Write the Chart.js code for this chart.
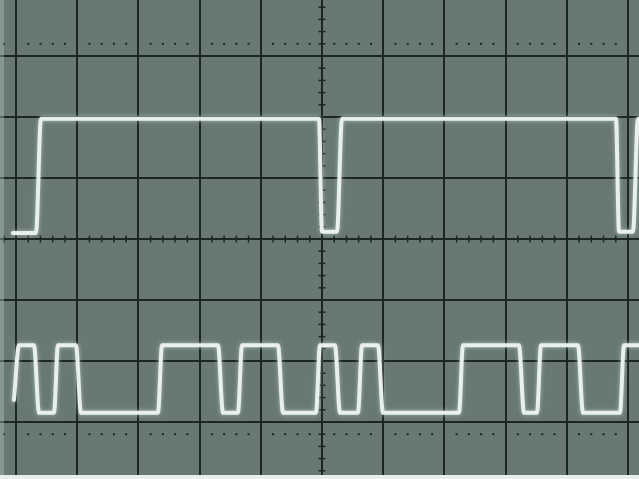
<!DOCTYPE html>
<html><head><meta charset="utf-8">
<script src="https://cdn.jsdelivr.net/npm/chart.js@4.4.1/dist/chart.umd.min.js"></script>
<style>
html,body{margin:0;padding:0;background:#e8eeec;overflow:hidden;}
#wrap{position:absolute;left:0;top:0;width:639px;height:475px;background:#687973;}
#edge{position:absolute;left:0;top:0;width:4px;height:475px;background:rgba(190,215,208,0.35);}
canvas{position:absolute;left:0;top:0;}
</style></head><body>
<div id="wrap"><canvas id="c" width="639" height="475"></canvas><div id="edge"></div></div>
<script>
// Graticule, in screen divisions
const xMajor = [0,1,2,3,4,5,6,7,8,9,10];
const yMajor = [0,1,2,3,4,5,6,7,8];
const xView = [-0.2614, 10.180];
const yView = [0.131, 7.918];
const minorStep = 0.2;
const centerX = 5;
const centerY = 4;
const dottedRows = [0.8, 7.2];

// Channel 1 (upper trace): time in divisions, level in divisions
const ch1Time  = [-0.05, 0.327, 0.408, 4.951, 5.000, 5.245, 5.327, 9.804, 9.853, 10.082, 10.163, 10.30];
const ch1Level = [ 4.10, 4.10,  5.97,  5.97,  4.12,  4.12,  5.97,  5.97,  4.12,  4.12,   5.97,   5.97];

// Channel 2 (lower trace)
const ch2Time  = [-0.033, 0.049, 0.294, 0.376, 0.621, 0.686, 0.980, 1.062, 2.320, 2.386, 3.301, 3.382,
                  3.627, 3.693, 4.281, 4.363, 4.902, 4.967, 5.212, 5.294, 5.588, 5.654, 5.915, 5.997,
                  7.239, 7.304, 8.219, 8.301, 8.513, 8.578, 9.183, 9.265, 9.869, 9.935, 10.30];
const ch2Level = [1.36, 2.26, 2.26, 1.15, 1.15, 2.26, 2.26, 1.15, 1.15, 2.26, 2.26, 1.15,
                  1.15, 2.26, 2.26, 1.15, 1.15, 2.26, 2.26, 1.15, 1.15, 2.26, 2.26, 1.15,
                  1.15, 2.26, 2.26, 1.15, 1.15, 2.26, 2.26, 1.15, 1.15, 2.26, 2.26];

const gridColor = '#1c2725';
const traceColor = 'rgba(236,243,241,0.96)';

const toPts = (t, l) => t.map((v, i) => ({x: v, y: l[i]}));

const graticule = {
  id: 'graticule',
  beforeDatasetsDraw(chart) {
    const {ctx, scales: {x, y}} = chart;
    ctx.save();
    ctx.strokeStyle = gridColor;
    ctx.fillStyle = gridColor;
    ctx.lineWidth = 1.5;
    const cx = x.getPixelForValue(centerX);
    const cy = y.getPixelForValue(centerY);
    const nx = Math.round(xMajor[xMajor.length - 1] / minorStep);
    const ny = Math.round(yMajor[yMajor.length - 1] / minorStep);
    for (let i = -1; i <= nx + 1; i++) {
      if (i % 5 === 0) continue;
      const px = x.getPixelForValue(i * minorStep);
      ctx.beginPath(); ctx.moveTo(px, cy - 3.5); ctx.lineTo(px, cy + 3.5); ctx.stroke();
      for (const r of dottedRows) {
        const py = y.getPixelForValue(r);
        ctx.fillRect(px - 1, py - 1, 2, 2);
      }
    }
    for (let j = 0; j <= ny; j++) {
      if (j % 5 === 0) continue;
      const py = y.getPixelForValue(j * minorStep);
      ctx.beginPath(); ctx.moveTo(cx - 3.5, py); ctx.lineTo(cx + 3.5, py); ctx.stroke();
    }
    ctx.restore();
  },
  beforeDatasetDraw(chart) {
    const ctx = chart.ctx;
    ctx.save();
    ctx.shadowColor = 'rgba(225,240,236,0.55)';
    ctx.shadowBlur = 4;
  },
  afterDatasetDraw(chart) {
    chart.ctx.restore();
  }
};

const traceStyle = {
  borderColor: traceColor,
  backgroundColor: traceColor,
  borderWidth: 4,
  pointRadius: 0,
  fill: false,
  cubicInterpolationMode: 'monotone',
  borderCapStyle: 'round',
  borderJoinStyle: 'round'
};

new Chart(document.getElementById('c'), {
  type: 'line',
  data: {
    datasets: [
      Object.assign({label: 'CH1', data: toPts(ch1Time, ch1Level)}, traceStyle),
      Object.assign({label: 'CH2', data: toPts(ch2Time, ch2Level)}, traceStyle)
    ]
  },
  options: {
    responsive: false,
    animation: false,
    devicePixelRatio: 1,
    layout: {padding: 0},
    plugins: {legend: {display: false}, tooltip: {enabled: false}, colors: {enabled: false}},
    scales: {
      x: {
        type: 'linear', min: xView[0], max: xView[1],
        afterBuildTicks: s => { s.ticks = xMajor.map(v => ({value: v})); },
        ticks: {display: false},
        border: {display: false},
        grid: {color: gridColor, lineWidth: 2, drawTicks: false}
      },
      y: {
        type: 'linear', min: yView[0], max: yView[1],
        afterBuildTicks: s => { s.ticks = yMajor.map(v => ({value: v})); },
        ticks: {display: false},
        border: {display: false},
        grid: {color: gridColor, lineWidth: 2, drawTicks: false}
      }
    }
  },
  plugins: [graticule]
});
</script>
</body></html>
